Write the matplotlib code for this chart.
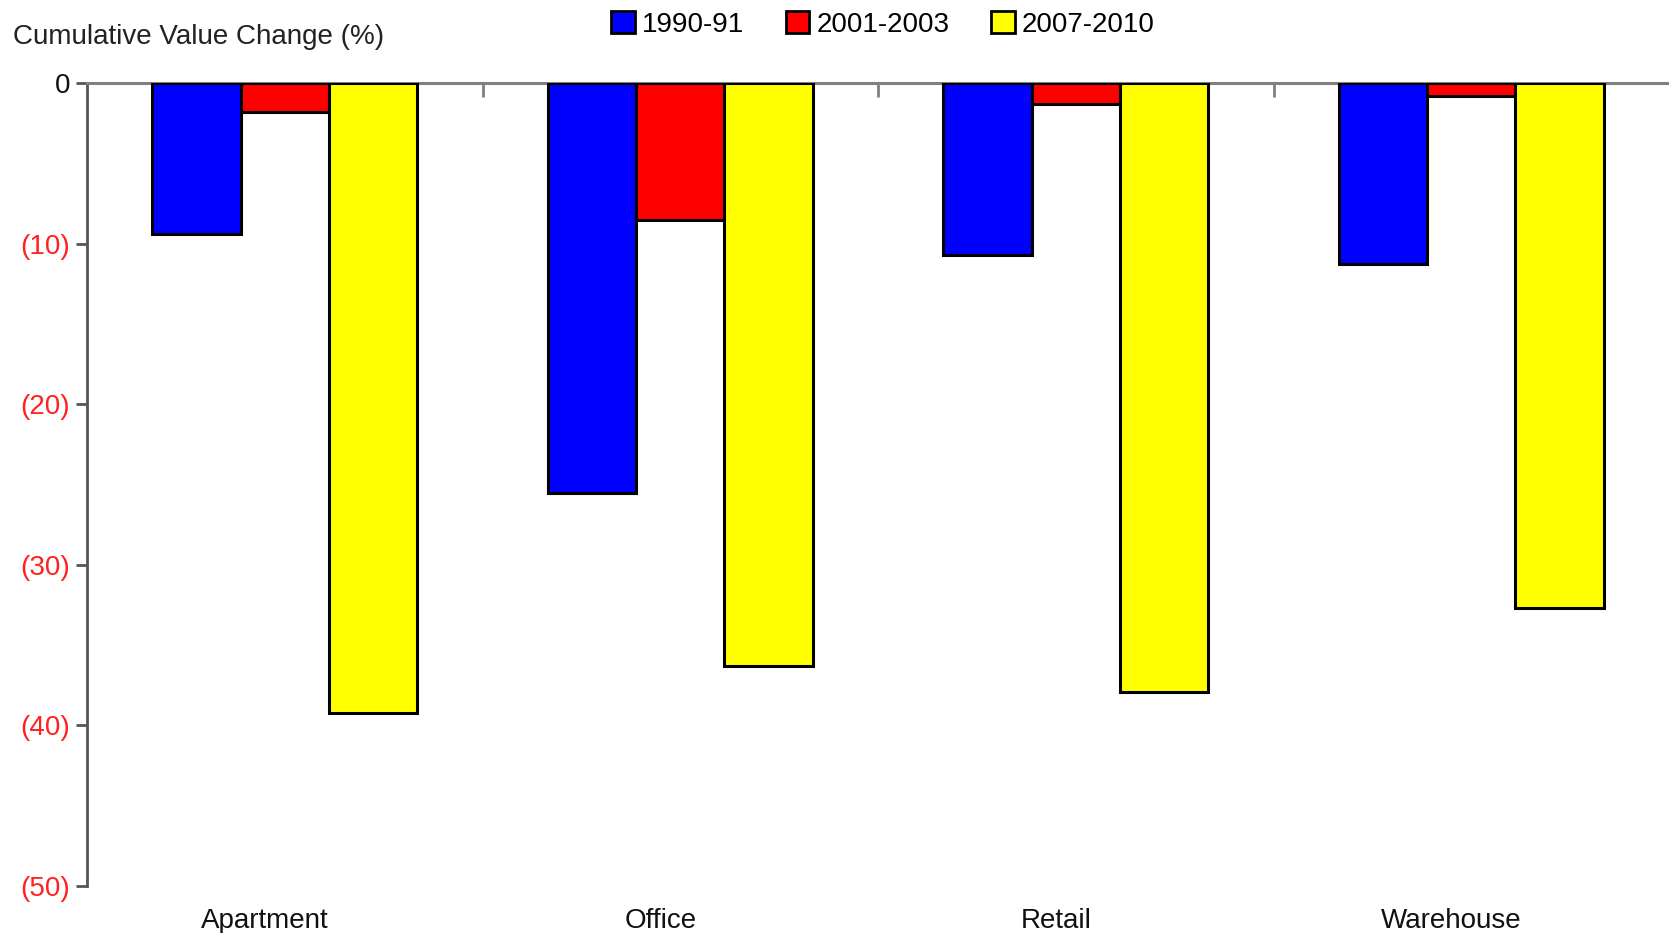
import matplotlib
matplotlib.use("Agg")
import matplotlib.pyplot as plt
from matplotlib.patches import Patch
import numpy as np

plt.rcParams['font.family'] = ['Liberation Sans', 'DejaVu Sans']

categories = ["Apartment", "Office", "Retail", "Warehouse"]
periods = ["1990-91", "2001-2003", "2007-2010"]
change_1990_91 = [-9.4, -25.5, -10.7, -11.3]
change_2001_2003 = [-1.8, -8.5, -1.3, -0.8]
change_2007_2010 = [-39.2, -36.3, -37.9, -32.7]
colors = ["#0000ff", "#ff0000", "#ffff00"]
y_ticks = [0, -10, -20, -30, -40, -50]

FS = 20

fig = plt.figure(figsize=(16.69, 9.33), dpi=100)
ax = fig.add_axes([87 / 1669, 1 - 886 / 933, 1 - 87 / 1669, (886 - 83) / 933])

x = np.arange(len(categories))
width = 0.223
series = [change_1990_91, change_2001_2003, change_2007_2010]
for i, (vals, col) in enumerate(zip(series, colors)):
    ax.bar(x + (i - 1) * width, vals, width, color=col, edgecolor="black",
           linewidth=2.2, zorder=3)

ax.set_xlim(-0.5, 3.5)
ax.set_ylim(-50, 0)

# spines: zero line on top, value axis on the left
for s in ["bottom", "right"]:
    ax.spines[s].set_visible(False)
ax.spines["top"].set_color("#808080")
ax.spines["top"].set_linewidth(2.2)
ax.spines["left"].set_color("#555555")
ax.spines["left"].set_linewidth(2)

ax.set_yticks(y_ticks)
ax.set_yticklabels(["0" if v == 0 else f"({abs(v)})" for v in y_ticks],
                   fontsize=FS)
for lbl, v in zip(ax.get_yticklabels(), y_ticks):
    lbl.set_color("#111111" if v == 0 else "#ff2020")
ax.tick_params(axis="y", direction="out", length=8, width=2, color="#555555", pad=4)

# category names sit a little left of each group's centre
ax.set_xticks(x)
ax.set_xticklabels([])
ax.tick_params(axis="x", which="major", length=0, bottom=False, top=False)
for xi, name in zip(x, categories):
    ax.text(xi - 0.05, -51.35, name, fontsize=FS, ha="center", va="top",
            color="#111111", clip_on=False)
ax.set_xticks(x[:-1] + 0.5, minor=True)
ax.tick_params(axis="x", which="minor", top=True, bottom=False, direction="in",
               length=10, width=2, color="#808080")

fig.text(13 / 1669, 1 - 37 / 933, "Cumulative Value Change (%)", fontsize=FS,
         va="center", ha="left", color="#222222")

handles = [Patch(facecolor=c, edgecolor="black", linewidth=2) for c in colors]
fig.legend(handles, periods, loc="center", bbox_to_anchor=(0.529, 1 - 24.5 / 933),
           ncol=3, frameon=False, fontsize=FS, handlelength=0.85, handleheight=0.85,
           handletextpad=0.25, columnspacing=1.5)

fig.savefig("out.png", dpi=100)
